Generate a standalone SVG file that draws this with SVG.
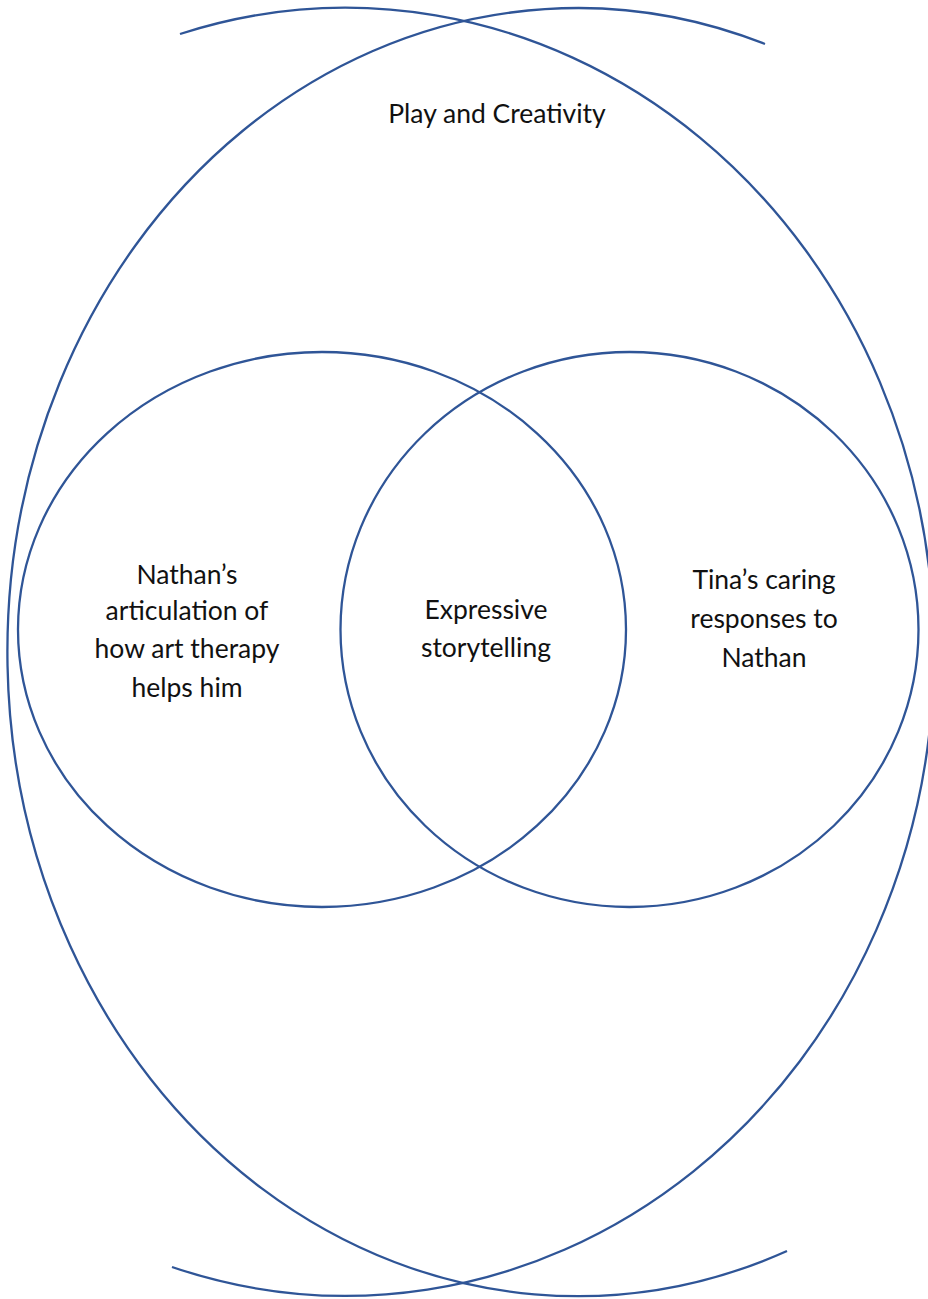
<svg xmlns="http://www.w3.org/2000/svg" width="928" height="1299" viewBox="0 0 928 1299">
  <style>
    .ring { fill: none; stroke: #2F5597; stroke-width: 2.3; stroke-linecap: butt; }
    .label { font-family: "Lato", "Open Sans", "Liberation Sans", sans-serif; font-size: 26.5px; fill: #111111; text-anchor: middle; }
  </style>
  <rect width="928" height="1299" fill="#ffffff"/>

  <!-- outer theme: two large overlapping arcs -->
  <g id="play-and-creativity">
    <path class="ring" d="M 765 44 A 570 644 0 1 0 787 1251"/>
    <path class="ring" d="M 180 34 A 588 644 0 1 1 172 1267"/>
    <text class="label" x="497" y="123">Play and Creativity</text>
  </g>

  <!-- left inner set -->
  <g id="nathan-articulation">
    <ellipse class="ring" cx="322" cy="629.5" rx="304" ry="277.5"/>
    <text class="label" x="187" y="584">Nathan’s</text>
    <text class="label" x="187" y="620">articulation of</text>
    <text class="label" x="187" y="658">how art therapy</text>
    <text class="label" x="187" y="697">helps him</text>
  </g>

  <!-- right inner set -->
  <g id="tina-responses">
    <ellipse class="ring" cx="629.5" cy="629.5" rx="289" ry="277.5"/>
    <text class="label" x="764" y="589">Tina’s caring</text>
    <text class="label" x="764" y="628">responses to</text>
    <text class="label" x="764" y="667">Nathan</text>
  </g>

  <!-- overlap of the two inner sets -->
  <g id="expressive-storytelling">
    <text class="label" x="486" y="619">Expressive</text>
    <text class="label" x="486" y="657">storytelling</text>
  </g>
</svg>
